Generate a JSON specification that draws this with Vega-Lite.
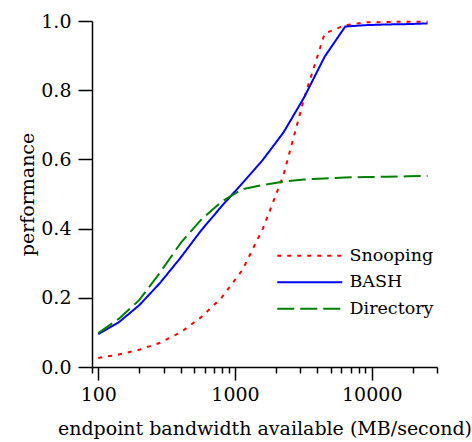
{
  "$schema": "https://vega.github.io/schema/vega-lite/v6.json",
  "width": 345,
  "height": 346,
  "autosize": "none",
  "padding": {"left": 92, "top": 21, "right": 35, "bottom": 75},
  "background": "white",
  "config": {
    "view": {"stroke": null},
    "font": "DejaVu Serif",
    "axis": {
      "domainColor": "black",
      "domainWidth": 1.5,
      "tickColor": "black",
      "tickWidth": 1.5,
      "grid": false,
      "labelColor": "black",
      "titleColor": "black",
      "labelFont": "DejaVu Serif",
      "titleFont": "DejaVu Serif",
      "labelFontSize": 19,
      "titleFontSize": 19,
      "titleFontWeight": "normal"
    },
    "legend": {
      "labelFont": "DejaVu Serif",
      "labelFontSize": 17.5,
      "labelColor": "black"
    }
  },
  "data": {
    "values": [
      {"x": 100, "y": 0.026, "series": "Snooping"},
      {"x": 141, "y": 0.036, "series": "Snooping"},
      {"x": 200, "y": 0.050, "series": "Snooping"},
      {"x": 283, "y": 0.070, "series": "Snooping"},
      {"x": 400, "y": 0.100, "series": "Snooping"},
      {"x": 566, "y": 0.144, "series": "Snooping"},
      {"x": 800, "y": 0.201, "series": "Snooping"},
      {"x": 1131, "y": 0.280, "series": "Snooping"},
      {"x": 1600, "y": 0.400, "series": "Snooping"},
      {"x": 2263, "y": 0.555, "series": "Snooping"},
      {"x": 3200, "y": 0.776, "series": "Snooping"},
      {"x": 4525, "y": 0.964, "series": "Snooping"},
      {"x": 6400, "y": 0.988, "series": "Snooping"},
      {"x": 9051, "y": 0.996, "series": "Snooping"},
      {"x": 12800, "y": 0.997, "series": "Snooping"},
      {"x": 18102, "y": 0.998, "series": "Snooping"},
      {"x": 25600, "y": 0.998, "series": "Snooping"},
      {"x": 100, "y": 0.095, "series": "BASH"},
      {"x": 141, "y": 0.129, "series": "BASH"},
      {"x": 200, "y": 0.179, "series": "BASH"},
      {"x": 283, "y": 0.243, "series": "BASH"},
      {"x": 400, "y": 0.316, "series": "BASH"},
      {"x": 566, "y": 0.395, "series": "BASH"},
      {"x": 800, "y": 0.465, "series": "BASH"},
      {"x": 1131, "y": 0.531, "series": "BASH"},
      {"x": 1600, "y": 0.599, "series": "BASH"},
      {"x": 2263, "y": 0.678, "series": "BASH"},
      {"x": 3200, "y": 0.779, "series": "BASH"},
      {"x": 4525, "y": 0.897, "series": "BASH"},
      {"x": 6400, "y": 0.984, "series": "BASH"},
      {"x": 9051, "y": 0.988, "series": "BASH"},
      {"x": 12800, "y": 0.990, "series": "BASH"},
      {"x": 18102, "y": 0.991, "series": "BASH"},
      {"x": 25600, "y": 0.993, "series": "BASH"},
      {"x": 100, "y": 0.098, "series": "Directory"},
      {"x": 141, "y": 0.139, "series": "Directory"},
      {"x": 200, "y": 0.194, "series": "Directory"},
      {"x": 283, "y": 0.273, "series": "Directory"},
      {"x": 400, "y": 0.358, "series": "Directory"},
      {"x": 566, "y": 0.426, "series": "Directory"},
      {"x": 800, "y": 0.478, "series": "Directory"},
      {"x": 1131, "y": 0.514, "series": "Directory"},
      {"x": 1600, "y": 0.526, "series": "Directory"},
      {"x": 2263, "y": 0.536, "series": "Directory"},
      {"x": 3200, "y": 0.542, "series": "Directory"},
      {"x": 4525, "y": 0.545, "series": "Directory"},
      {"x": 6400, "y": 0.548, "series": "Directory"},
      {"x": 9051, "y": 0.549, "series": "Directory"},
      {"x": 12800, "y": 0.550, "series": "Directory"},
      {"x": 18102, "y": 0.551, "series": "Directory"},
      {"x": 25600, "y": 0.552, "series": "Directory"}
    ]
  },
  "mark": {"type": "line", "strokeWidth": 2},
  "encoding": {
    "x": {
      "field": "x",
      "type": "quantitative",
      "scale": {"type": "log", "domain": [90, 30000], "nice": false},
      "axis": {
        "title": "endpoint bandwidth available (MB/second)",
        "values": [90, 100, 200, 300, 400, 500, 600, 700, 800, 900, 1000, 2000, 3000, 4000, 5000, 6000, 7000, 8000, 9000, 10000, 20000, 30000],
        "tickSize": {"condition": {"test": "datum.value == 100 || datum.value == 1000 || datum.value == 10000", "value": 13}, "value": 6},
        "labelExpr": "datum.value == 100 || datum.value == 1000 || datum.value == 10000 ? format(datum.value, 'd') : ''",
        "labelOverlap": false,
        "labelFlush": false,
        "labelPadding": 5,
        "titlePadding": 15
      }
    },
    "y": {
      "field": "y",
      "type": "quantitative",
      "scale": {"domain": [0, 1], "nice": false},
      "axis": {
        "title": "performance",
        "values": [0, 0.2, 0.4, 0.6, 0.8, 1.0],
        "format": ".1f",
        "tickSize": 14,
        "labelPadding": 7,
        "titlePadding": 3
      }
    },
    "color": {
      "field": "series",
      "type": "nominal",
      "scale": {"domain": ["Snooping", "BASH", "Directory"], "range": ["#ff0000", "#0000ff", "#008000"]},
      "legend": {
        "title": null,
        "orient": "none",
        "legendX": 209,
        "legendY": 226,
        "symbolType": "M-5,0H5",
        "symbolSize": 169,
        "symbolStrokeWidth": 2,
        "labelOffset": 31,
        "rowPadding": 7.5,
        "padding": 0
      }
    },
    "strokeDash": {
      "field": "series",
      "type": "nominal",
      "scale": {"domain": ["Snooping", "BASH", "Directory"], "range": [[4, 6], [1, 0], [17, 6]]},
      "legend": {
        "title": null,
        "orient": "none",
        "legendX": 209,
        "legendY": 226,
        "symbolType": "M-5,0H5",
        "symbolSize": 169,
        "symbolStrokeWidth": 2,
        "labelOffset": 31,
        "rowPadding": 7.5,
        "padding": 0
      }
    }
  }
}
